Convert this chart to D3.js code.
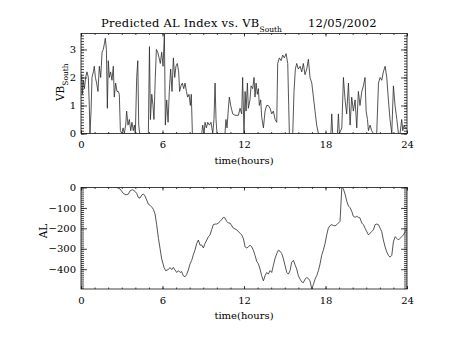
<!DOCTYPE html>
<html><head><meta charset="utf-8">
<script src="https://cdn.jsdelivr.net/npm/d3@7"></script>
<style>
body{margin:0;background:#fff}
svg{display:block;background:#fff}
text{font-family:"DejaVu Serif",serif;fill:#000}
</style>
</head><body>
<svg id="c" width="453" height="340"></svg>
<script>
// ---- data ----
const vbTime = [0.05,0.1,0.17,0.25,0.34,0.44,0.54,0.61,0.66,0.74,0.81,0.91,0.98,1.06,1.15,1.25,1.35,1.45,1.55,1.64,1.72,1.79,1.87,1.94,2.01,2.09,2.18,2.28,2.38,2.45,2.55,2.65,2.75,2.82,2.9,3.0,3.1,3.19,3.29,3.36,3.46,3.56,3.66,3.75,3.85,3.93,4.0,4.1,4.18,4.25,4.32,4.96,5.04,5.11,5.21,5.3,5.37,5.47,5.55,5.65,5.75,5.84,5.94,6.04,6.14,6.21,6.31,6.41,6.5,6.6,6.7,6.8,6.9,6.99,7.09,7.19,7.26,7.36,7.46,7.56,7.66,7.76,7.85,7.95,8.05,8.12,8.2,8.89,8.96,9.06,9.13,9.23,9.33,9.45,9.57,9.7,9.79,9.87,9.94,10.01,10.6,10.67,10.75,10.85,10.92,11.02,11.17,11.34,11.59,11.71,11.83,11.9,12.0,12.08,12.15,12.25,12.32,12.44,12.52,12.64,12.74,12.81,12.89,12.98,13.06,13.13,13.23,13.3,13.43,13.55,13.67,13.79,13.92,14.04,14.16,14.29,14.41,14.48,14.6,14.73,14.85,14.97,15.1,15.22,15.29,15.34,15.59,15.68,15.78,15.88,16.0,16.13,16.25,16.37,16.49,16.62,16.74,16.86,16.99,17.11,17.23,17.35,17.48,18.4,18.46,18.53,18.88,18.95,19.02,19.2,19.32,19.44,19.56,19.69,19.81,19.93,20.05,20.18,20.3,20.42,20.54,20.67,20.79,20.91,20.99,21.09,21.16,21.28,21.4,21.53,21.77,21.9,22.02,22.14,22.26,22.39,22.51,22.63,22.75,22.88,23.0,23.12,23.25,23.37,23.49,23.61,23.69,23.79,23.86,23.98];
const vbValue = [2.1,1.4,1.9,1.6,2.0,2.2,2.0,1.0,0,0.8,2.0,2.2,2.4,2.0,1.8,1.5,2.4,2.0,2.9,3.0,3.2,3.4,3.0,0.9,2.6,2.0,2.2,1.9,2.4,1.3,1.8,1.5,1.5,1.4,0.1,0,0.2,0,0.3,0.8,0.3,0.5,0.1,0.4,0.1,0.3,0,2.0,2.6,0.3,0,0,3.1,0.5,1.4,1.0,0.5,2.0,3.0,2.9,2.7,2.5,2.9,2.4,3.55,0.3,1.2,0.4,1.5,2.3,1.5,2.7,2.0,2.4,2.5,2.2,1.5,1.7,1.8,1.6,1.8,1.5,1.3,1.4,1.0,1.4,0,0,0.3,0,0.4,0.2,0.4,0.3,0.4,0,0.5,1.8,0.5,0,0,0.5,0.2,0.9,1.3,1.0,0.7,0.65,0.65,0.9,0.7,2.0,0,1.5,0.8,1.8,0.9,1.2,1.7,1.6,2.0,1.3,1.8,1.4,1.6,1.0,1.2,0.6,0.2,0.8,1.0,1.0,0.9,0.7,0.8,0.5,0.4,2.5,2.7,2.6,2.8,2.7,2.85,2.5,1.0,0,0,1.5,2.3,2.5,2.3,2.4,2.2,2.5,2.1,2.3,2.65,2.0,1.8,1.3,0.8,0.3,0,0,0.7,0,0,0.7,0,0.2,2.0,1.2,0.7,1.8,0.3,1.3,0.8,1.2,0.2,1.5,1.0,1.5,1.7,2.0,0.8,0.5,0.1,0.3,0.1,0,0,1.8,2.0,1.9,2.2,2.4,2.0,1.2,0.5,0,1.7,1.0,0.5,0,0,0.5,0.1,0.3,0.2,0.2];

const alTime = [2.63,2.87,3.12,3.31,3.49,3.61,3.8,3.98,4.1,4.22,4.34,4.47,4.59,4.71,4.84,4.96,5.08,5.21,5.33,5.45,5.57,5.7,5.82,5.94,6.11,6.23,6.43,6.55,6.68,6.8,6.92,7.05,7.17,7.29,7.41,7.53,7.66,7.78,7.9,8.03,8.15,8.27,8.39,8.52,8.64,8.76,8.89,9.01,9.13,9.26,9.38,9.5,9.62,9.74,9.87,9.99,10.11,10.24,10.36,10.48,10.6,10.73,10.85,10.97,11.22,11.46,11.71,11.83,11.95,12.08,12.2,12.32,12.44,12.57,12.69,12.81,12.94,13.06,13.18,13.3,13.43,13.55,13.67,13.79,13.92,14.04,14.16,14.29,14.41,14.53,14.65,14.78,14.9,15.02,15.15,15.27,15.39,15.51,15.64,15.76,15.88,16.0,16.13,16.25,16.37,16.49,16.62,16.74,16.86,16.99,17.11,17.23,17.35,17.48,17.6,17.72,17.84,17.97,18.09,18.21,18.34,18.46,18.58,18.7,18.83,18.95,19.07,19.2,19.24,19.32,19.44,19.56,19.69,19.81,19.93,20.05,20.18,20.3,20.42,20.54,20.67,20.79,20.91,21.04,21.16,21.28,21.4,21.53,21.65,21.77,21.9,22.02,22.14,22.26,22.39,22.51,22.63,22.75,22.88,23.0,23.12,23.25,23.37,23.49,23.61,23.74,23.86,23.98];
const alValue = [0,-7,-29,-36,-32,-16,-11,-19,-29,-49,-52,-37,-32,-41,-62,-82,-87,-96,-107,-129,-182,-249,-299,-349,-391,-407,-402,-392,-402,-391,-404,-416,-407,-416,-412,-432,-437,-426,-404,-374,-357,-329,-307,-274,-257,-282,-282,-296,-274,-257,-241,-232,-207,-182,-179,-179,-174,-166,-157,-146,-149,-166,-174,-174,-199,-207,-224,-232,-249,-291,-296,-291,-282,-291,-307,-332,-362,-374,-399,-432,-457,-432,-416,-424,-407,-416,-382,-346,-324,-307,-312,-324,-349,-382,-416,-424,-407,-366,-357,-379,-399,-432,-449,-462,-466,-449,-441,-446,-457,-497,-474,-449,-432,-407,-374,-332,-307,-274,-232,-199,-186,-182,-186,-188,-182,-174,-166,-1,0,-8,-32,-66,-91,-99,-116,-141,-146,-141,-146,-149,-174,-182,-199,-216,-232,-224,-216,-207,-182,-179,-182,-199,-216,-257,-291,-316,-332,-341,-332,-266,-241,-249,-257,-249,-241,-232,-216,-207];

const xTicks = [0,6,12,18,24];
const xMinor = d3.range(0,25,1);
const vbTicks = [0,1,2,3];
const vbMinor = d3.range(0,3.6,0.1);
const alTicks = [0,-100,-200,-300,-400];
const alMinor = d3.range(0,-500,-10);
const titleMain = "Predicted AL Index vs. VB";
const titleSub = "South";
const titleDate = "12/05/2002";

// ---- layout ----
const svg = d3.select("#c");
const X0 = 81, X1 = 407;
const boxTop = {y0: 33.5, y1: 133.5};
const boxBot = {y0: 187.5, y1: 289};

const x = d3.scaleLinear().domain([0,24]).range([X0,X1]);
const yV = d3.scaleLinear().domain([0,3.57]).range([boxTop.y1, boxTop.y0]);
const yA = d3.scaleLinear().domain([-497,0]).range([boxBot.y1, boxBot.y0]);

function panel(y, box, yTicks, yMinor, yFmt, id){
  const g = svg.append("g");
  const mk = (axis, t) => g.append("g").attr("transform", t).call(axis)
      .call(s => s.select(".domain").remove())
      .call(s => s.selectAll("line").attr("stroke","#111").attr("stroke-width",0.8));
  mk(d3.axisBottom(x).tickValues(xMinor).tickSize(-1.5).tickFormat(""), `translate(0,${box.y1})`);
  mk(d3.axisTop(x).tickValues(xMinor).tickSize(-1.5).tickFormat(""), `translate(0,${box.y0})`);
  mk(d3.axisLeft(y).tickValues(yMinor).tickSize(-3).tickFormat(""), `translate(${X0},0)`);
  mk(d3.axisRight(y).tickValues(yMinor).tickSize(-3).tickFormat(""), `translate(${X1},0)`);
  mk(d3.axisBottom(x).tickValues(xTicks).tickSize(-3).tickPadding(7.5).tickFormat(d3.format("d")), `translate(0,${box.y1})`);
  mk(d3.axisTop(x).tickValues(xTicks).tickSize(-3).tickFormat(""), `translate(0,${box.y0})`);
  mk(d3.axisLeft(y).tickValues(yTicks).tickSize(-6).tickPadding(5).tickFormat(yFmt), `translate(${X0},0)`);
  mk(d3.axisRight(y).tickValues(yTicks).tickSize(-6).tickFormat(""), `translate(${X1},0)`);
  g.selectAll(".tick text").attr("font-family","DejaVu Serif").attr("font-size",10).attr("fill","#000");
  g.append("rect").attr("x",X0).attr("y",box.y0).attr("width",X1-X0).attr("height",box.y1-box.y0)
    .attr("fill","none").attr("stroke","#111").attr("stroke-width",0.8);
  svg.append("clipPath").attr("id",id).append("rect")
    .attr("x",X0).attr("y",box.y0).attr("width",X1-X0).attr("height",box.y1-box.y0);
  svg.append("text").attr("x",(X0+X1)/2).attr("y",box.y1+30).attr("text-anchor","middle")
    .attr("font-size",10).text("time(hours)");
}

panel(yV, boxTop, vbTicks, vbMinor, d3.format("d"), "cTop");
panel(yA, boxBot, alTicks, alMinor, d3.format("d"), "cBot");

const vbData = vbTime.map((t,i)=>[t, vbValue[i]]);
const alData = alTime.map((t,i)=>[t, alValue[i]]);

svg.append("path").datum(vbData).attr("clip-path","url(#cTop)")
  .attr("fill","none").attr("stroke","#2a2a2a").attr("stroke-width",0.8)
  .attr("d", d3.line().x(d=>x(d[0])).y(d=>yV(d[1])));
svg.append("path").datum(alData).attr("clip-path","url(#cBot)")
  .attr("fill","none").attr("stroke","#2a2a2a").attr("stroke-width",0.8)
  .attr("d", d3.line().x(d=>x(d[0])).y(d=>yA(d[1])));

const tt = svg.append("text").attr("x",101).attr("y",27).attr("font-size",11.5).attr("letter-spacing",0.25);
tt.append("tspan").text(titleMain);
tt.append("tspan").attr("dy",5).attr("font-size",7.5).attr("letter-spacing",0).text(titleSub);
tt.append("tspan").attr("x",308).attr("y",27).text(titleDate);

const vbl = svg.append("text").attr("transform","translate(64,101) rotate(-90)").attr("font-size",10.5);
vbl.append("tspan").text("VB");
vbl.append("tspan").attr("dy",3.5).attr("font-size",7.5).text("South");
svg.append("text").attr("transform","translate(47,231) rotate(-90)").attr("text-anchor","middle")
  .attr("font-size",10.5).text("AL");
</script>
</body></html>
